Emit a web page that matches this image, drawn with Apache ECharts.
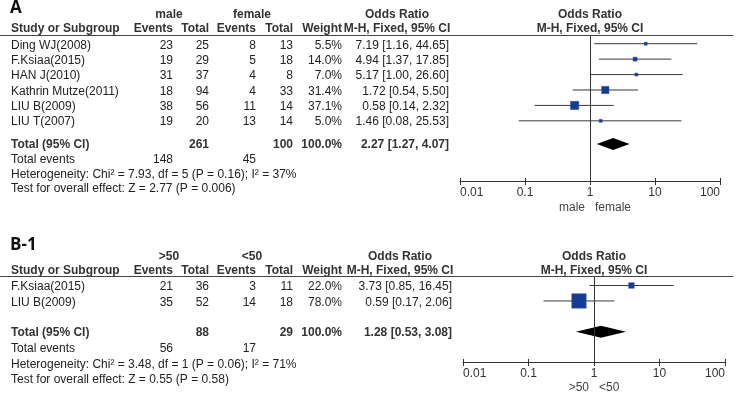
<!DOCTYPE html>
<html><head><meta charset="utf-8">
<script src="https://cdn.jsdelivr.net/npm/echarts@6/dist/echarts.min.js"></script>
<style>html,body{margin:0;padding:0;background:#fff}#c{width:736px;height:400px}</style>
</head><body><div id="c"></div>
<script>
// ---------- DATA ----------
const tickValues = [0.01, 0.1, 1, 10, 100];
const tickLabels = ['0.01', '0.1', '1', '10', '100'];

// Panel A: male vs female
const studiesA = ['Ding WJ(2008)', 'F.Ksiaa(2015)', 'HAN J(2010)', 'Kathrin Mutze(2011)', 'LIU B(2009)', 'LIU T(2007)'];
const g1EventsA = [23, 19, 31, 18, 38, 19];
const g1TotalA = [25, 29, 37, 94, 56, 20];
const g2EventsA = [8, 5, 4, 4, 11, 13];
const g2TotalA = [13, 18, 8, 33, 14, 14];
const weightA = [5.5, 14.0, 7.0, 31.4, 37.1, 5.0];
const orA = [7.19, 4.94, 5.17, 1.72, 0.58, 1.46];
const lowA = [1.16, 1.37, 1.00, 0.54, 0.14, 0.08];
const highA = [44.65, 17.85, 26.60, 5.50, 2.32, 25.53];
const pooledA = [2.27, 1.27, 4.07];
const totalsA = [261, 100];
const totalEventsA = [148, 45];
const hetA = 'Heterogeneity: Chi² = 7.93, df = 5 (P = 0.16); I² = 37%';
const testA = 'Test for overall effect: Z = 2.77 (P = 0.006)';
const groupsA = ['male', 'female'];

// Panel B-1: >50 vs <50
const studiesB = ['F.Ksiaa(2015)', 'LIU B(2009)'];
const g1EventsB = [21, 35];
const g1TotalB = [36, 52];
const g2EventsB = [3, 14];
const g2TotalB = [11, 18];
const weightB = [22.0, 78.0];
const orB = [3.73, 0.59];
const lowB = [0.85, 0.17];
const highB = [16.45, 2.06];
const pooledB = [1.28, 0.53, 3.08];
const totalsB = [88, 29];
const totalEventsB = [56, 17];
const hetB = 'Heterogeneity: Chi² = 3.48, df = 1 (P = 0.06); I² = 71%';
const testB = 'Test for overall effect: Z = 0.55 (P = 0.58)';
const groupsB = ['>50', '<50'];

// ---------- BUILD ----------
const FONT = '"Liberation Sans", Arial, sans-serif';
const TXT = '#222';
const HDR = '#333';
const BOX = '#143c96';
const LINE = '#333';

const fmt2 = v => v.toFixed(2);
const ciText = (o, l, h) => fmt2(o) + ' [' + fmt2(l) + ', ' + fmt2(h) + ']';

const graphics = [];
function txt(s, x, y, align, opts) {
  opts = opts || {};
  graphics.push({
    type: 'text', silent: true,
    style: {
      text: String(s), x: x, y: y,
      align: align || 'left', textAlign: align || 'left',
      verticalAlign: 'middle', textVerticalAlign: 'middle',
      fontSize: opts.size || 12, fontWeight: opts.bold ? 'bold' : 'normal',
      fontFamily: opts.family || FONT, fill: opts.color || TXT
    }
  });
}
function hline(x1, x2, y) {
  graphics.push({ type: 'line', silent: true, shape: { x1: x1, y1: y, x2: x2, y2: y }, style: { stroke: '#444', lineWidth: 1 } });
}

const cols = { name: 11, e1: 173, t1: 209, e2: 256, t2: 293, w: 342 };

function buildPanel(P) {
  txt(P.title, 10, P.titleY, 'left', { size: P.titleSize, bold: true, color: '#111', family: '"Open Sans", "Liberation Sans", Arial, sans-serif' });
  txt(P.groups[0], 169, P.h1, 'center', { bold: true, color: HDR });
  txt(P.groups[1], 252, P.h1, 'center', { bold: true, color: HDR });
  txt('Odds Ratio', P.orCenter, P.h1, 'center', { bold: true, color: HDR });
  txt('Odds Ratio', P.plotCenter, P.h1, 'center', { bold: true, color: HDR });
  txt('Study or Subgroup', cols.name, P.h2, 'left', { bold: true, color: HDR });
  txt('Events', cols.e1, P.h2, 'right', { bold: true, color: HDR });
  txt('Total', cols.t1, P.h2, 'right', { bold: true, color: HDR });
  txt('Events', cols.e2, P.h2, 'right', { bold: true, color: HDR });
  txt('Total', cols.t2, P.h2, 'right', { bold: true, color: HDR });
  txt('Weight', cols.w, P.h2, 'right', { bold: true, color: HDR });
  txt('M-H, Fixed, 95% CI', P.orCenter, P.h2, 'center', { bold: true, color: HDR });
  txt('M-H, Fixed, 95% CI', P.plotCenter, P.h2, 'center', { bold: true, color: HDR });
  hline(0, 733, P.rule);
  P.studies.forEach((s, i) => {
    const y = P.rowTextY(i);
    txt(s, cols.name, y, 'left');
    txt(P.e1[i], cols.e1, y, 'right');
    txt(P.t1[i], cols.t1, y, 'right');
    txt(P.e2[i], cols.e2, y, 'right');
    txt(P.t2[i], cols.t2, y, 'right');
    txt(P.w[i].toFixed(1) + '%', cols.w, y, 'right');
    txt(ciText(P.or[i], P.lo[i], P.hi[i]), P.orRight, y, 'right');
  });
  const ty = P.totalY;
  txt('Total (95% CI)', cols.name, ty, 'left', { bold: true, color: HDR });
  txt(P.totals[0], cols.t1, ty, 'right', { bold: true, color: HDR });
  txt(P.totals[1], cols.t2, ty, 'right', { bold: true, color: HDR });
  txt(P.w.reduce((a, b) => a + b, 0).toFixed(1) + '%', cols.w, ty, 'right', { bold: true, color: HDR });
  txt(ciText(P.pooled[0], P.pooled[1], P.pooled[2]), P.orRight, ty, 'right', { bold: true, color: HDR });
  txt('Total events', cols.name, P.evY, 'left');
  txt(P.totEv[0], cols.e1, P.evY, 'right');
  txt(P.totEv[1], cols.e2, P.evY, 'right');
  txt(P.het, cols.name, P.hetY, 'left');
  txt(P.test, cols.name, P.testY, 'left');
  txt(P.groups[0], P.plotCenter - 5, P.favY, 'right', { color: '#444' });
  txt(P.groups[1], P.plotCenter + 5, P.favY, 'left', { color: '#444' });
}

const panels = [
  {
    title: 'A', titleY: 8, titleSize: 17, groups: groupsA,
    h1: 15, h2: 29, rule: 35.5,
    studies: studiesA, e1: g1EventsA, t1: g1TotalA, e2: g2EventsA, t2: g2TotalA, w: weightA,
    or: orA, lo: lowA, hi: highA, pooled: pooledA, totals: totalsA, totEv: totalEventsA,
    het: hetA, test: testA,
    orCenter: 397, orRight: 449, plotCenter: 590,
    rowTextY: i => 45.5 + i * 15.3, totalY: 145, evY: 160, hetY: 174.5, testY: 189, favY: 208,
    grid: { left: 460, width: 260, top: 36, height: 145 },
    yMin: -0.5, yMax: 8.9, totalRow: 6.5
  },
  {
    title: 'B-1', titleY: 245, titleSize: 17, groups: groupsB,
    h1: 257, h2: 271, rule: 276.5,
    studies: studiesB, e1: g1EventsB, t1: g1TotalB, e2: g2EventsB, t2: g2TotalB, w: weightB,
    or: orB, lo: lowB, hi: highB, pooled: pooledB, totals: totalsB, totEv: totalEventsB,
    het: hetB, test: testB,
    orCenter: 400, orRight: 452, plotCenter: 594,
    rowTextY: i => 287 + i * 15.2, totalY: 333, evY: 349, hetY: 364.5, testY: 380, favY: 388,
    grid: { left: 463, width: 262, top: 277, height: 85 },
    yMin: -0.55, yMax: 4.95, totalRow: 3
  }
];
panels.forEach(buildPanel);

const boxSide = w => Math.max(3, 0.55 * Math.pow(w, 0.75));
const labelFor = v => {
  for (let i = 0; i < tickValues.length; i++) {
    if (Math.abs(Math.log10(v) - Math.log10(tickValues[i])) < 1e-6) return tickLabels[i];
  }
  return '';
};

const grids = [], xAxes = [], yAxes = [], series = [];
panels.forEach((P, pi) => {
  grids.push(P.grid);
  xAxes.push({
    type: 'log', logBase: 10, gridIndex: pi, min: tickValues[0], max: tickValues[tickValues.length - 1],
    position: 'bottom',
    axisLine: { show: true, onZero: false, lineStyle: { color: LINE, width: 1 } },
    axisTick: { show: true, length: 4, lineStyle: { color: LINE } },
    axisLabel: { show: true, margin: 6, color: '#333', fontSize: 12, fontFamily: FONT, formatter: labelFor,
                 alignMinLabel: 'left', alignMaxLabel: 'right' },
    splitLine: { show: false }, minorTick: { show: false }
  });
  xAxes.push({
    type: 'log', logBase: 10, gridIndex: pi, min: tickValues[0], max: tickValues[tickValues.length - 1],
    position: 'bottom',
    axisLine: { show: false, onZero: false },
    axisTick: { show: true, inside: true, length: 3, lineStyle: { color: LINE } },
    axisLabel: { show: false }, splitLine: { show: false }
  });
  yAxes.push({ type: 'value', gridIndex: pi, min: P.yMin, max: P.yMax, inverse: true, show: false });

  const studyData = P.or.map((o, i) => [P.lo[i], P.hi[i], o, i, boxSide(P.w[i])]);
  series.push({
    type: 'custom', xAxisIndex: pi * 2, yAxisIndex: pi, silent: true,
    data: studyData,
    renderItem: (params, api) => {
      const lo = api.coord([api.value(0), api.value(3)]);
      const hi = api.coord([api.value(1), api.value(3)]);
      const c = api.coord([api.value(2), api.value(3)]);
      const s = api.value(4);
      return {
        type: 'group', children: [
          { type: 'line', shape: { x1: lo[0], y1: lo[1], x2: hi[0], y2: hi[1] }, style: { stroke: '#3a3a3a', lineWidth: 1 } },
          { type: 'rect', shape: { x: c[0] - s / 2, y: c[1] - s / 2, width: s, height: s }, style: { fill: BOX, stroke: '#2b4fa8', lineWidth: 0.5 } }
        ]
      };
    },
    markLine: {
      silent: true, symbol: 'none', label: { show: false },
      lineStyle: { color: LINE, width: 1, type: 'solid' },
      data: [{ xAxis: 1 }]
    },
    z: 3
  });
  series.push({
    type: 'custom', xAxisIndex: pi * 2, yAxisIndex: pi, silent: true,
    data: [[P.pooled[1], P.pooled[2], P.pooled[0], P.totalRow]],
    renderItem: (params, api) => {
      const lo = api.coord([api.value(0), api.value(3)]);
      const hi = api.coord([api.value(1), api.value(3)]);
      const c = api.coord([api.value(2), api.value(3)]);
      const h = 6;
      return { type: 'polygon', shape: { points: [[lo[0], lo[1]], [c[0], c[1] - h], [hi[0], hi[1]], [c[0], c[1] + h]] }, style: { fill: '#000' } };
    },
    z: 4
  });
});

const chart = echarts.init(document.getElementById('c'), null, { renderer: 'canvas' });
chart.setOption({
  backgroundColor: '#fff',
  animation: false,
  grid: grids, xAxis: xAxes, yAxis: yAxes, series: series,
  graphic: graphics
});
</script></body></html>
